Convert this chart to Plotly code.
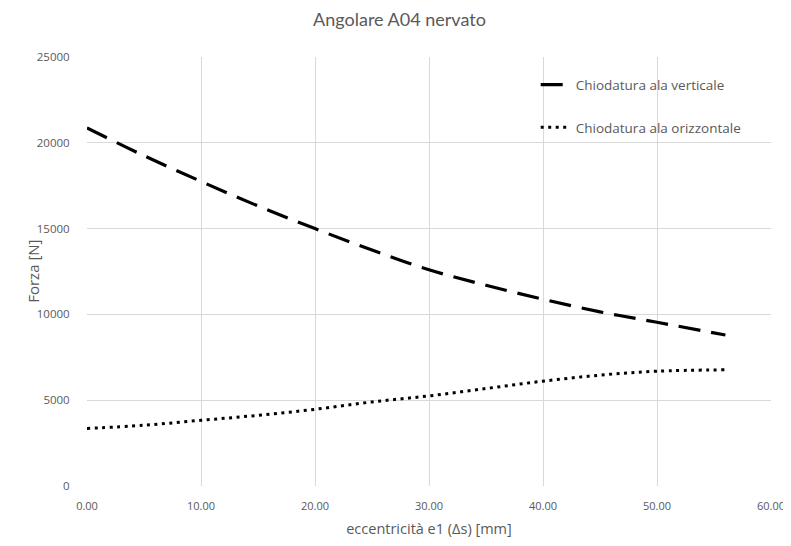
import plotly.graph_objects as go

# eccentricità e1 (Δs) [mm]
ecc = [0, 5, 10, 15, 20, 25, 30, 35, 40, 45, 50, 56]
# Forza [N]
verticale = [20870, 19250, 17750, 16320, 15000, 13750, 12600, 11700, 10880, 10150, 9540, 8800]
orizzontale = [3350, 3540, 3830, 4120, 4470, 4900, 5250, 5680, 6110, 6460, 6690, 6770]

X_TICKS = [0, 10, 20, 30, 40, 50, 60]
Y_TICKS = [0, 5000, 10000, 15000, 20000, 25000]

FONT = "'Open Sans', sans-serif"
GREY = "#595959"
GRID = "#d9d9d9"

fig = go.Figure()
fig.add_trace(go.Scatter(
    x=ecc, y=verticale, mode="lines", name="Chiodatura ala verticale",
    line=dict(color="#000000", width=3.2, dash="22px,11px", shape="spline"),
    legendgroup="v",
))
fig.add_trace(go.Scatter(
    x=ecc, y=orizzontale, mode="lines", name="Chiodatura ala orizzontale",
    line=dict(color="#000000", width=3, dash="3px,4.5px", shape="spline"),
    legendgroup="o",
))

# page body has an 8px margin, so the figure is sized to fit inside the window
fig.update_layout(
    width=783, height=530, autosize=False,
    paper_bgcolor="#ffffff", plot_bgcolor="#ffffff",
    font=dict(family=FONT, color=GREY, size=11),
    title=dict(text="Angolare A04 nervato", x=0.5, xanchor="center", y=0.978, yanchor="middle",
               font=dict(size=18, color=GREY, family="Lato, sans-serif")),
    margin=dict(l=79, r=20, t=49, b=52),
    showlegend=True,
    legend=dict(x=0.656, xanchor="left", y=0.971, yanchor="top", bgcolor="rgba(255,255,255,0)",
                font=dict(size=13.5, color=GREY, family=FONT), tracegroupgap=22),
    annotations=[dict(text="Forza [N]", xref="paper", yref="paper", x=-0.08, y=0.5,
                      xanchor="center", yanchor="middle", textangle=-90, showarrow=False,
                      font=dict(size=15, color=GREY, family=FONT))],
)
fig.update_xaxes(
    range=[0, 60], tickvals=X_TICKS, tickformat=".2f", showgrid=True, gridcolor=GRID, gridwidth=1.3,
    zeroline=False, showline=False, ticks="outside", ticklen=10, tickcolor="rgba(0,0,0,0)",
    tickfont=dict(size=11, color=GREY), automargin=False, ticklabeloverflow="allow",
    title=dict(text="eccentricità e1 (Δs) [mm]", font=dict(size=14.5, color=GREY), standoff=12),
)
fig.update_yaxes(
    range=[0, 25000], tickvals=Y_TICKS, tickformat="d", showgrid=True, gridcolor=GRID, gridwidth=1.3,
    zeroline=False, showline=False, ticks="outside", ticklen=14, tickcolor="rgba(0,0,0,0)",
    tickfont=dict(size=11.5, color=GREY), automargin=False,
)

fig.write_html("out.html")
